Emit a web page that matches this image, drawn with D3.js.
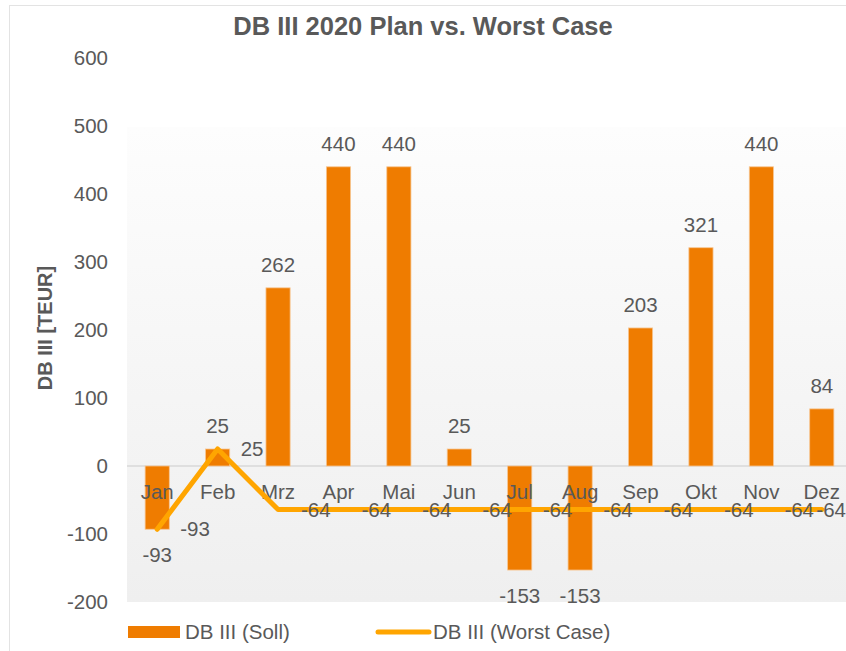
<!DOCTYPE html>
<html>
<head>
<meta charset="utf-8">
<script src="https://cdn.jsdelivr.net/npm/d3@7"></script>
<style>
  body { margin: 0; background: #fff; }
  text { font-family: "Liberation Sans", Arial, sans-serif; fill: #595959; }
</style>
</head>
<body>
<div id="chart"></div>
<script>
var months = ["Jan", "Feb", "Mrz", "Apr", "Mai", "Jun", "Jul", "Aug", "Sep", "Okt", "Nov", "Dez"];
var soll = [-93, 25, 262, 440, 440, 25, -153, -153, 203, 321, 440, 84];
var worstCase = [-93, 25, -64, -64, -64, -64, -64, -64, -64, -64, -64, -64];
var yTicks = [-200, -100, 0, 100, 200, 300, 400, 500, 600];

var W = 846, H = 651;
var fs = "20.5px";

var svg = d3.select("#chart").append("svg")
  .attr("width", W)
  .attr("height", H);

// outer chart frame (light)
svg.append("rect")
  .attr("x", 9.5).attr("y", 5.5)
  .attr("width", W + 20).attr("height", H + 20)
  .attr("fill", "#fff")
  .attr("stroke", "#e3e3e3");

var x = d3.scaleBand().domain(months).range([127, 852]).padding(0);
var y = d3.scaleLinear().domain([-200, 600]).range([602, 58]);
var bw = x.bandwidth();

// plot area gradient
var grad = svg.append("defs").append("linearGradient")
  .attr("id", "plotBg").attr("x1", 0).attr("y1", 0).attr("x2", 0).attr("y2", 1);
grad.append("stop").attr("offset", "0%").attr("stop-color", "#fdfdfd");
grad.append("stop").attr("offset", "100%").attr("stop-color", "#efefef");

svg.append("rect")
  .attr("x", 127).attr("y", y(500) + 1)
  .attr("width", W - 127).attr("height", y(-200) - y(500) - 1)
  .attr("fill", "url(#plotBg)");

// title
svg.append("text")
  .attr("x", 423).attr("y", 35)
  .attr("text-anchor", "middle")
  .style("font-size", "25.5px")
  .style("font-weight", "bold")
  .text("DB III 2020 Plan vs. Worst Case");

// y axis title
svg.append("text")
  .attr("transform", "translate(52," + 328 + ") rotate(-90)")
  .attr("text-anchor", "middle")
  .style("font-size", "20px")
  .style("font-weight", "bold")
  .text("DB III [TEUR]");

// y axis
var yAxis = d3.axisLeft(y).tickValues(yTicks).tickSize(0).tickPadding(0)
  .tickFormat(function(d) { return String(d); });
var gy = svg.append("g")
  .attr("transform", "translate(108,0)")
  .call(yAxis);
gy.select(".domain").remove();
gy.selectAll("text")
  .style("font-size", fs)
  .style("font-family", "Liberation Sans, Arial, sans-serif")
  .attr("fill", "#595959");

// zero line
svg.append("line")
  .attr("x1", 127).attr("x2", W)
  .attr("y1", y(0)).attr("y2", y(0))
  .attr("stroke", "#d9d9d9")
  .attr("stroke-width", 1.5);

// bars
svg.selectAll("rect.bar")
  .data(soll)
  .enter()
  .append("rect")
  .attr("class", "bar")
  .attr("x", function(d, i) { return x(months[i]) + bw * 0.3; })
  .attr("width", bw * 0.4)
  .attr("y", function(d) { return y(Math.max(0, d)); })
  .attr("height", function(d) { return Math.abs(y(d) - y(0)); })
  .attr("fill", "#ef7c00")
  .attr("stroke", "#f7c692")
  .attr("stroke-width", 0.8);

// category labels
svg.selectAll("text.cat")
  .data(months)
  .enter()
  .append("text")
  .attr("class", "cat")
  .attr("x", function(d) { return x(d) + bw / 2; })
  .attr("y", y(0) + 33)
  .attr("text-anchor", "middle")
  .style("font-size", fs)
  .text(function(d) { return d; });

// worst case line
var line = d3.line()
  .x(function(d, i) { return x(months[i]) + bw / 2; })
  .y(function(d) { return y(d); });

svg.append("path")
  .datum(worstCase)
  .attr("d", line)
  .attr("fill", "none")
  .attr("stroke", "#ffa500")
  .attr("stroke-width", 5)
  .attr("stroke-linejoin", "round")
  .attr("stroke-linecap", "round");

// bar value labels
svg.selectAll("text.sollLbl")
  .data(soll)
  .enter()
  .append("text")
  .attr("class", "sollLbl")
  .attr("x", function(d, i) { return x(months[i]) + bw / 2; })
  .attr("y", function(d) { return d >= 0 ? y(d) - 16 : y(d) + 33; })
  .attr("text-anchor", "middle")
  .style("font-size", fs)
  .text(function(d) { return d; });

// line value labels (right of point, kept inside chart)
svg.selectAll("text.wcLbl")
  .data(worstCase)
  .enter()
  .append("text")
  .attr("class", "wcLbl")
  .attr("x", function(d, i) { return x(months[i]) + bw / 2 + 23; })
  .attr("y", function(d) { return y(d) + 7; })
  .style("font-size", fs)
  .text(function(d) { return d; })
  .each(function() {
    var b = this.getBBox();
    if (b.x + b.width > W) {
      d3.select(this).attr("x", W).attr("text-anchor", "end");
    }
  });

// legend
var lg = svg.append("g");
lg.append("rect")
  .attr("x", 128).attr("y", 626)
  .attr("width", 52).attr("height", 12)
  .attr("fill", "#ef7c00");
lg.append("text")
  .attr("x", 185).attr("y", 639)
  .style("font-size", fs)
  .text("DB III (Soll)");
lg.append("line")
  .attr("x1", 378).attr("x2", 429)
  .attr("y1", 632).attr("y2", 632)
  .attr("stroke", "#ffa500")
  .attr("stroke-width", 5)
  .attr("stroke-linecap", "round");
lg.append("text")
  .attr("x", 433).attr("y", 639)
  .style("font-size", fs)
  .text("DB III (Worst Case)");
</script>
</body>
</html>
